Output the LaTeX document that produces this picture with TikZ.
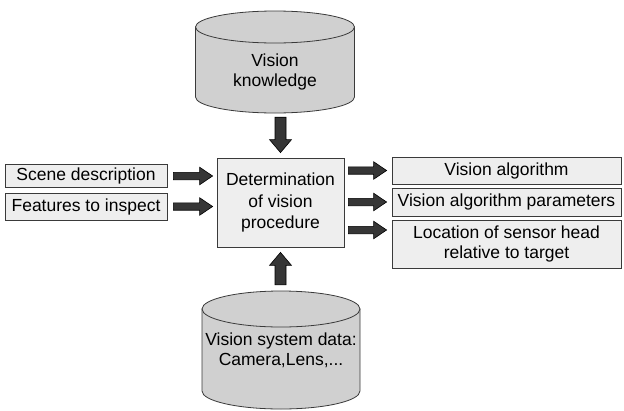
\documentclass[tikz,border=0pt]{standalone}
\usepackage{fontspec}
\setmainfont{Liberation Sans}
\usetikzlibrary{calc}
\definecolor{boxfill}{HTML}{EEEEEE}
\definecolor{cylfill}{HTML}{D0D0D0}
\definecolor{arrfill}{HTML}{363636}
\definecolor{edgecol}{HTML}{3A3A3A}
\tikzset{
  txt/.style={inner sep=0pt, align=center, font=\fontsize{17.5}{20}\selectfont},
  box/.style={txt, draw=edgecol, fill=boxfill, line width=0.8pt},
  cyl/.style={draw=edgecol, fill=cylfill, line width=0.8pt},
  frame/.style={inner sep=0pt},
  barrow/.style 2 args={draw=black, fill=arrfill, line width=0.6pt, line join=miter,
    to path={let \p1=(\tikztostart), \p2=(\tikztotarget),
      \n1={veclen(\x2-\x1,\y2-\y1)}, \n2={atan2(\y2-\y1,\x2-\x1)}, \n3={\n1-13pt} in
      ($(\p1)+(\n2+90:#1)$) -- ($(\p1)+(\n2:\n3)+(\n2+90:#1)$)
      -- ($(\p1)+(\n2:\n3)+(\n2+90:#2)$) -- (\p2)
      -- ($(\p1)+(\n2:\n3)+(\n2-90:#2)$) -- ($(\p1)+(\n2:\n3)+(\n2-90:#1)$)
      -- ($(\p1)+(\n2-90:#1)$) -- cycle}}
}
\begin{document}
\begin{tikzpicture}[x=1pt,y=-1pt]
\useasboundingbox (0,0) rectangle (624,410);

% top cylinder
\draw[cyl] (195.5,27) -- (195.5,97) arc[start angle=180,end angle=360,x radius=79.5pt,y radius=16pt] -- (354.5,27) -- cycle;
\draw[cyl] (275,27) ellipse[x radius=79.5pt,y radius=16pt];
\node[frame, minimum width=159pt, minimum height=102pt] (vk) at (275,62) {};
\node[txt] (vkt) at (275,72) {Vision\\knowledge};

% bottom cylinder
\draw[cyl] (202,309) -- (202,391) arc[start angle=180,end angle=360,x radius=79pt,y radius=18pt] -- (360,309) -- cycle;
\draw[cyl] (281,309) ellipse[x radius=79pt,y radius=18pt];
\node[frame, minimum width=158pt, minimum height=118pt] (vs) at (281,350) {};
\node[txt] (vst) at (281,350) {Vision system data:\\Camera,Lens,...};

% boxes
\node[box, minimum width=162pt, minimum height=23pt] (scene) at (86,176) {Scene description};
\node[box, minimum width=162pt, minimum height=27pt] (feat) at (86,206.5) {Features to inspect};
\node[box, minimum width=127pt, minimum height=89pt, font=\fontsize{17.5}{21.5}\selectfont] (det) at (280.5,202.5) {Determination\\of vision\\procedure};
\node[box, minimum width=229pt, minimum height=27pt] (va) at (506.5,170.5) {Vision algorithm};
\node[box, minimum width=229pt, minimum height=28pt] (vp) at (506.5,202) {Vision algorithm parameters};
\node[box, minimum width=229pt, minimum height=48pt] (loc) at (506.5,244) {Location of sensor head\\relative to target};

% arrows
\draw[barrow={5.5pt}{11pt}] ([yshift=-4pt]vk.south -| det.north) to ([yshift=5pt]det.north);
\draw[barrow={5.5pt}{11pt}] ([yshift=6pt]vs.north -| det.south) to ([yshift=-5pt]det.south);
\draw[barrow={3.7pt}{8.8pt}] ([xshift=6pt]scene.east) to ([xshift=-4pt]det.west |- scene.east);
\draw[barrow={3.7pt}{8.8pt}] ([xshift=6pt]feat.east) to ([xshift=-4pt]det.west |- feat.east);
\draw[barrow={3.7pt}{8.8pt}] ([xshift=4pt]det.east |- va.west) to ([xshift=-5pt]va.west);
\draw[barrow={3.7pt}{8.8pt}] ([xshift=4pt]det.east |- vp.west) to ([xshift=-5pt]vp.west);
\draw[barrow={3.7pt}{8.8pt}] ([xshift=4pt,yshift=14pt]det.east |- loc.west) to ([xshift=-5pt,yshift=14pt]loc.west);
\end{tikzpicture}
\end{document}
